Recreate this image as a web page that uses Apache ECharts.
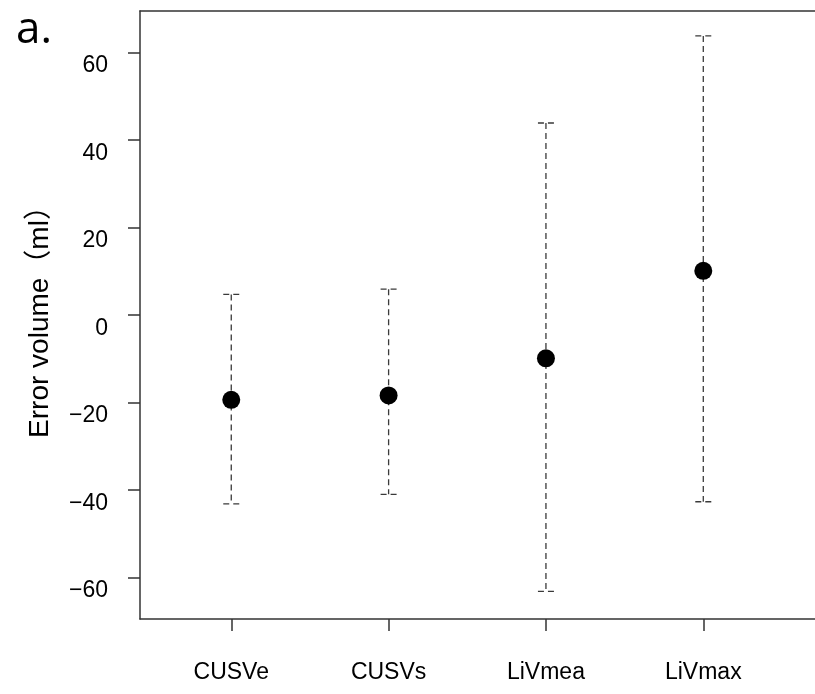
<!DOCTYPE html>
<html>
<head>
<meta charset="utf-8">
<script src="https://cdn.jsdelivr.net/npm/echarts@6/dist/echarts.min.js"></script>
<style>html,body{margin:0;padding:0;background:#fff;}#c{width:815px;height:694px;}</style>
</head>
<body>
<div id="c"></div>
<script>
var categories = ['CUSVe', 'CUSVs', 'LiVmea', 'LiVmax'];
var means = [-19.4, -18.4, -9.9, 10.1];
var upper = [4.7, 5.9, 43.9, 63.8];
var lower = [-43.2, -41.0, -63.2, -42.7];
var yTicks = [-60, -40, -20, 0, 20, 40, 60];
var catPos = [1, 2, 3, 4];

var FONT = '"Liberation Sans", Arial, "Noto Sans CJK JP", sans-serif';
var chart = echarts.init(document.getElementById('c'), null, {renderer: 'canvas'});

var errData = categories.map(function (c, i) { return [catPos[i], lower[i], upper[i]]; });
var meanData = categories.map(function (c, i) { return [catPos[i], means[i]]; });

var option = {
  animation: false,
  backgroundColor: '#fff',
  graphic: [{
    type: 'text', left: 16, top: 8,
    style: {text: 'a.', font: '44px "Open Sans", "Liberation Sans", sans-serif', fill: '#000'}
  }],
  grid: {left: 140, right: 0, top: 11, bottom: 75, containLabel: false},
  xAxis: [{
    type: 'value', min: 0.42, max: 4.71, position: 'bottom',
    axisLine: {show: true, onZero: false, lineStyle: {color: '#333', width: 1.5}},
    axisTick: {show: true, customValues: catPos, length: 12, lineStyle: {color: '#333', width: 1.5}},
    axisLabel: {
      customValues: catPos, margin: 42, fontSize: 23, color: '#000', fontFamily: FONT,
      formatter: function (v) { return categories[Math.round(v) - 1] || ''; }
    },
    splitLine: {show: false}
  }, {
    type: 'value', min: 0.42, max: 4.71, position: 'top',
    axisLine: {show: true, onZero: false, lineStyle: {color: '#333', width: 1.5}},
    axisTick: {show: false}, axisLabel: {show: false}, splitLine: {show: false}
  }],
  yAxis: {
    type: 'value', min: -69.5, max: 69.5,
    name: 'Error volume（ml）', nameLocation: 'middle', nameGap: 86, nameRotate: 90,
    nameTextStyle: {fontSize: 28, color: '#000', fontFamily: FONT},
    axisLine: {show: true, onZero: false, lineStyle: {color: '#333', width: 1.5}},
    axisTick: {show: true, customValues: yTicks, length: 12, lineStyle: {color: '#333', width: 1.5}},
    axisLabel: {
      customValues: yTicks, margin: 32, fontSize: 23, color: '#000', fontFamily: FONT,
      verticalAlign: 'top', padding: [2, 0, 0, 0],
      formatter: function (v) { return String(v).replace('-', '\u2212'); }
    },
    splitLine: {show: false}
  },
  series: [{
    type: 'custom',
    xAxisIndex: 0,
    data: errData,
    renderItem: function (params, api) {
      var x = api.value(0);
      var lo = api.coord([x, api.value(1)]);
      var hi = api.coord([x, api.value(2)]);
      var hw = 8;
      var st = {stroke: '#3a3a3a', lineWidth: 1.3, lineDash: [6, 4]};
      return {
        type: 'group',
        children: [
          {type: 'line', shape: {x1: hi[0], y1: hi[1], x2: lo[0], y2: lo[1]}, style: st},
          {type: 'line', shape: {x1: hi[0] - hw, y1: hi[1], x2: hi[0] + hw, y2: hi[1]}, style: st},
          {type: 'line', shape: {x1: lo[0] - hw, y1: lo[1], x2: lo[0] + hw, y2: lo[1]}, style: st}
        ]
      };
    },
    z: 1
  }, {
    type: 'scatter',
    xAxisIndex: 0,
    data: meanData,
    symbol: 'circle',
    symbolSize: 18,
    itemStyle: {color: '#000', opacity: 1},
    z: 2
  }]
};
chart.setOption(option);
</script>
</body>
</html>
